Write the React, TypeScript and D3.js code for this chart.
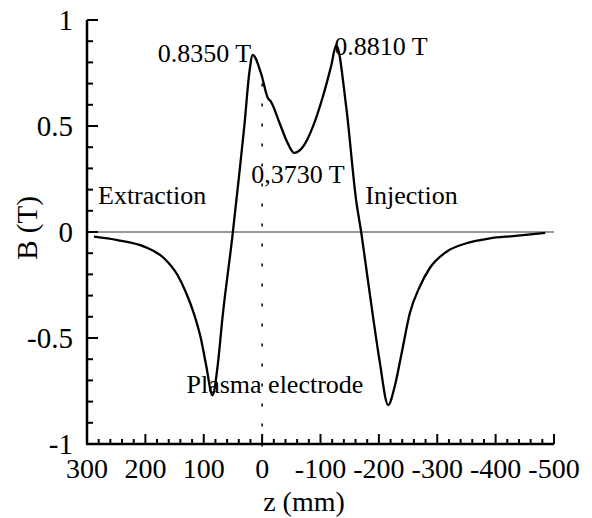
import React from "react";
import * as d3 from "d3";

const zValues = [288, 248, 202, 168, 145, 131, 116, 105, 96, 85, 76, 68, 51, 39, 30, 22, 16, 2, -10, -15, -30, -44, -55, -70, -87, -104, -118, -127, -144, -161, -170, -178, -190, -201, -216, -227, -239, -253, -270, -287, -316, -350, -390, -430, -485];
const bValues = [-0.022, -0.038, -0.069, -0.124, -0.203, -0.282, -0.392, -0.501, -0.627, -0.77, -0.627, -0.406, -0.022, 0.278, 0.514, 0.75, 0.835, 0.749, 0.631, 0.615, 0.513, 0.418, 0.373, 0.402, 0.497, 0.638, 0.78, 0.881, 0.591, 0.151, -0.006, -0.164, -0.4, -0.604, -0.816, -0.73, -0.572, -0.383, -0.258, -0.171, -0.093, -0.053, -0.03, -0.019, -0.004];

const xTicks = [300, 200, 100, 0, -100, -200, -300, -400, -500];
const xTickLabels = ["300", "200", "100", "0", "-100", "-200", "-300", "-400", "-500"];
const yTicks = [-1, -0.5, 0, 0.5, 1];
const yTickLabels = ["-1", "-0.5", "0", "0.5", "1"];

const annotations = [
  { text: "0.8350 T", z: 16, b: 0.835 },
  { text: "0.8810 T", z: -127, b: 0.881 },
  { text: "0,3730 T", z: -55, b: 0.373 },
  { text: "Extraction", z: 300, b: 0 },
  { text: "Injection", z: -170, b: 0 },
  { text: "Plasma electrode", z: 85, b: -0.77 },
];
// label offsets in px (layout only)
const annOffsets = [
  [-95, 7],
  [-2, 10],
  [-43, 30],
  [11, -28],
  [4, -28],
  [-26, -2],
];

export default function App() {
  const W = 592, H = 518;
  const x = d3.scaleLinear().domain([300, -500]).range([87, 554]);
  const y = d3.scaleLinear().domain([-1, 1]).range([444, 20]);
  const pts = zValues.map((z, i) => [z, bValues[i]] as [number, number]);
  const line = d3.line<[number, number]>().x(d => x(d[0])).y(d => y(d[1])).curve(d3.curveMonotoneX);

  const xMinor = d3.range(300, -501, -20).filter(v => v % 100 !== 0);
  const yMinor = d3.range(-10, 11).map(v => v / 10).filter(v => Math.round(v * 10) % 5 !== 0);
  const font = "'Liberation Serif', 'Times New Roman', serif";

  return (
    <svg width={W} height={H} style={{ position: "absolute", left: 0, top: 0, background: "#fff" }} fontFamily={font}>
      {/* zero line */}
      <line x1={x(300)} x2={x(-500)} y1={y(0)} y2={y(0)} stroke="#333" strokeWidth={1.2} />
      {/* dotted z=0 line */}
      <line x1={x(0)} x2={x(0)} y1={y(0.7)} y2={y(-1.04)} stroke="#000" strokeWidth={1.5} strokeDasharray="3 17" />
      {/* curve */}
      <path d={line(pts) || ""} fill="none" stroke="#000" strokeWidth={2.3} strokeLinejoin="round" />
      {/* y axis */}
      <line x1={x(300)} x2={x(300)} y1={y(1)} y2={y(-1)} stroke="#000" strokeWidth={2.5} />
      {yTicks.map(v => (
        <line key={"yt" + v} x1={x(300)} x2={x(300) + 11} y1={y(v)} y2={y(v)} stroke="#000" strokeWidth={2} />
      ))}
      {yMinor.map(v => (
        <line key={"ym" + v} x1={x(300)} x2={x(300) + 6} y1={y(v)} y2={y(v)} stroke="#000" strokeWidth={2} />
      ))}
      {yTicks.map((v, i) => (
        <text key={"yl" + v} x={73} y={y(v)} dy="0.35em" textAnchor="end" fontSize={29}>{yTickLabels[i]}</text>
      ))}
      {/* x axis */}
      <line x1={x(300) - 1} x2={x(-500)} y1={y(-1)} y2={y(-1)} stroke="#000" strokeWidth={2.5} />
      {xTicks.map(v => (
        <line key={"xt" + v} x1={x(v)} x2={x(v)} y1={y(-1)} y2={y(-1) - 10} stroke="#000" strokeWidth={2} />
      ))}
      {xMinor.map(v => (
        <line key={"xm" + v} x1={x(v)} x2={x(v)} y1={y(-1)} y2={y(-1) - 5} stroke="#000" strokeWidth={2} />
      ))}
      {xTicks.map((v, i) => (
        <text key={"xl" + v} x={x(v)} y={478} textAnchor="middle" fontSize={28}>{xTickLabels[i]}</text>
      ))}
      {/* axis titles */}
      <text x={304} y={511} textAnchor="middle" fontSize={28}>z (mm)</text>
      <text transform={`translate(37,228) rotate(-90)`} textAnchor="middle" fontSize={29}>B (T)</text>
      {/* annotations */}
      {annotations.map((a, i) => (
        <text key={a.text} x={x(a.z) + annOffsets[i][0]} y={y(a.b) + annOffsets[i][1]} fontSize={26}>{a.text}</text>
      ))}
    </svg>
  );
}
